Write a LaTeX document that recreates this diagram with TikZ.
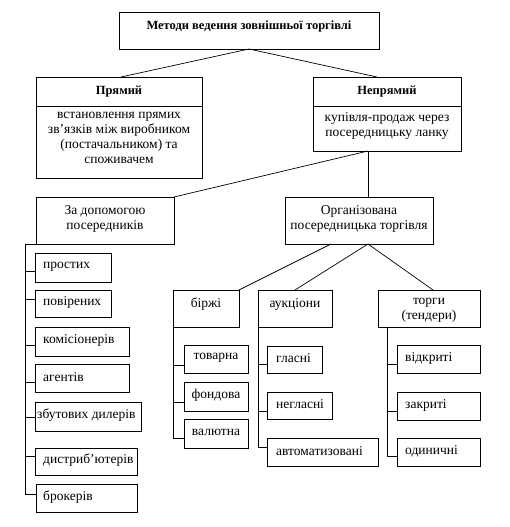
\documentclass[tikz,border=0pt]{standalone}
\usepackage{fontspec}
\setmainfont{Liberation Serif}
\usetikzlibrary{calc}
\tikzset{
  box/.style={draw, line width=0.8pt, anchor=north west, inner sep=0pt, outer sep=0pt},
  ln/.style={line width=0.7pt},
  txt/.style={inner sep=0pt, align=center, font=\fontsize{13.5}{15}\selectfont},
  ltxt/.style={inner sep=0pt, anchor=west, font=\fontsize{13.5}{15}\selectfont},
  btxt/.style={inner sep=0pt, align=center, font=\fontsize{12.5}{15}\selectfont\bfseries}
}
\newcommand{\bx}[5]{\node[box, minimum width={#4pt-#2pt}, minimum height={#5pt-#3pt}] (#1) at (#2,-#3) {};}
\begin{document}
\begin{tikzpicture}[x=1pt,y=1pt]
\useasboundingbox (0,0) rectangle (509,-527);
% top
\bx{top}{119}{12}{379}{49}
\node[btxt, anchor=north] (toptxt) at ($(top.north)+(0,-9)$) {Методи ведення зовнішньої торгівлі};
% direct
\bx{prm}{36}{77}{202}{178}
\coordinate (prmdl) at (36,-106);
\coordinate (prmdr) at (202,-106);
\draw[ln] (prmdl) -- (prmdr);
\node[btxt, anchor=north] (prmh) at ($(prm.north)+(0,-9)$) {Прямий};
\node[txt, anchor=north] (prmb) at (119,-112) {встановлення прямих\\зв’язків між виробником\\(постачальником) та\\споживачем};
% indirect
\bx{neprm}{313}{77}{461}{151}
\coordinate (neprmdl) at (313,-106);
\coordinate (neprmdr) at (461,-106);
\draw[ln] (neprmdl) -- (neprmdr);
\node[btxt, anchor=north] (neprmh) at ($(neprm.north)+(0,-9)$) {Непрямий};
\node[txt, anchor=north] (neprmb) at (387,-112) {купівля-продаж через\\посередницьку ланку};
\draw[ln] (top.south) -- ($(prm.north)+(2,0)$);
\draw[ln] (top.south) -- ($(neprm.north)+(-10,0)$);
% second level
\bx{zad}{36}{197}{174}{244}
\node[txt, anchor=north] (zadt) at ($(zad.north)+(0,-8)$) {За допомогою\\посередників};
\bx{org}{285}{197}{433}{244}
\node[txt, anchor=north] (orgt) at ($(org.north)+(0,-8)$) {Організована\\посередницька торгівля};
\coordinate (nb) at (368,-151);
\draw[ln] (nb) -- (zad.north east);
\draw[ln] (nb) -- (368,-197);
% third level
\bx{birzh}{173}{290}{239}{327}
\node[txt, anchor=north] (birzht) at ($(birzh.north)+(0,-8)$) {біржі};
\bx{auk}{258}{290}{332}{327}
\node[txt, anchor=north] (aukt) at ($(auk.north)+(0,-8)$) {аукціони};
\bx{torg}{378}{290}{480}{327}
\node[txt, anchor=north] (torgt) at ($(torg.north)+(0,-8)$) {торги\\(тендери)};
\coordinate (ob1) at (331,-244);
\coordinate (ob2) at (368,-244);
\draw[ln] (ob1) -- (birzh.north east);
\draw[ln] (ob2) -- (295,-290);
\draw[ln] (ob2) -- (433,-290);
% left list
\bx{l1}{35}{253}{111}{282}
\bx{l2}{35}{290}{111}{317}
\bx{l3}{35}{327}{129}{356}
\bx{l4}{35}{364}{129}{392}
\bx{l5}{35}{402}{141}{431}
\bx{l6}{35}{448}{137}{475}
\bx{l7}{36}{484}{137}{512}
\node[ltxt] (l1t) at ($(l1.west)+(8,1)$) {простих};
\node[ltxt] (l2t) at ($(l2.west)+(8,1)$) {повірених};
\node[ltxt] (l3t) at ($(l3.west)+(8,1)$) {комісіонерів};
\node[ltxt] (l4t) at ($(l4.west)+(8,1)$) {агентів};
\node[ltxt] (l5t) at ($(l5.west)+(2,1)$) {збутових дилерів};
\node[ltxt] (l6t) at ($(l6.west)+(8,1)$) {дистриб'ютерів};
\node[ltxt] (l7t) at ($(l7.west)+(7,1)$) {брокерів};
\draw[ln] (zad.south west) -- (25,-244) -- (25,-494) -- (l7.west |- 0,-494);
\foreach \n/\y in {l1/271,l2/299,l3/345,l4/382,l5/417,l6/456}
  \draw[ln] (25,-\y) -- (\n.west |- 0,-\y);
% birzhi list
\bx{b1}{184}{345}{248}{373}
\bx{b2}{184}{382}{248}{411}
\bx{b3}{184}{419}{248}{448}
\node[txt] (b1t) at ($(b1.center)+(0,1)$) {товарна};
\node[txt] (b2t) at ($(b2.center)+(0,1)$) {фондова};
\node[txt] (b3t) at ($(b3.center)+(0,1)$) {валютна};
\draw[ln] (birzh.south west) -- (173,-438) -- (b3.west |- 0,-438);
\foreach \n/\y in {b1/365,b2/402}
  \draw[ln] (173,-\y) -- (\n.west |- 0,-\y);
% auction list
\bx{a1}{267}{346}{322}{373}
\bx{a2}{267}{392}{332}{419}
\bx{a3}{267}{438}{378}{466}
\node[ltxt] (a1t) at ($(a1.west)+(9,1)$) {гласні};
\node[ltxt] (a2t) at ($(a2.west)+(9,1)$) {негласні};
\node[ltxt] (a3t) at ($(a3.west)+(9,1)$) {автоматизовані};
\draw[ln] (auk.south west) -- (258,-447) -- (a3.west |- 0,-447);
\foreach \n/\y in {a1/364,a2/411}
  \draw[ln] (258,-\y) -- (\n.west |- 0,-\y);
% tender list
\bx{t1}{397}{345}{480}{373}
\bx{t2}{397}{392}{480}{420}
\bx{t3}{397}{438}{480}{466}
\node[ltxt] (t1t) at ($(t1.west)+(8,1)$) {відкриті};
\node[ltxt] (t2t) at ($(t2.west)+(8,1)$) {закриті};
\node[ltxt] (t3t) at ($(t3.west)+(8,1)$) {одиничні};
\coordinate (tv) at (387,-327);
\draw[ln] (tv) -- (387,-456) -- (t3.west |- 0,-456);
\foreach \n/\y in {t1/364,t2/411}
  \draw[ln] (387,-\y) -- (\n.west |- 0,-\y);
\end{tikzpicture}
\end{document}
